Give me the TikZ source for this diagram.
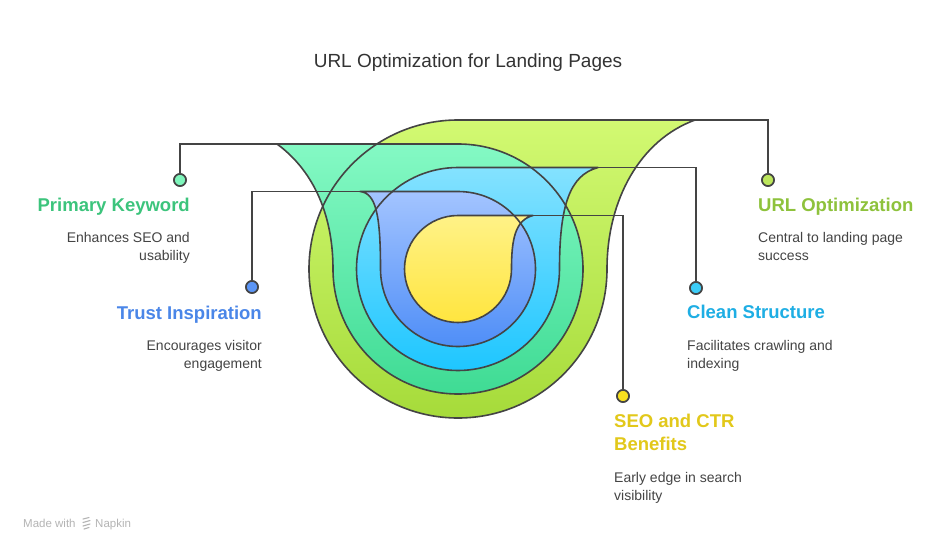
\documentclass[tikz,border=0pt]{standalone}
\usepackage{fontspec}
\setmainfont{Liberation Sans}
\definecolor{ink}{HTML}{444444}
\definecolor{titlec}{HTML}{333333}
\definecolor{wm}{HTML}{B4B4B4}
\definecolor{gTop}{HTML}{D2F972}\definecolor{gBot}{HTML}{A6DB3A}
\definecolor{mTop}{HTML}{84F9C4}\definecolor{mBot}{HTML}{3FDB94}
\definecolor{lTop}{HTML}{84E2FF}\definecolor{lBot}{HTML}{1EC6FF}
\definecolor{bTop}{HTML}{A3C4FF}\definecolor{bBot}{HTML}{4F8EF7}
\definecolor{yTop}{HTML}{FFF287}\definecolor{yBot}{HTML}{FFE53F}
\definecolor{hG}{HTML}{8EC23C}
\definecolor{hM}{HTML}{3CC47C}
\definecolor{hL}{HTML}{1EAEE4}
\definecolor{hB}{HTML}{4A86E8}
\definecolor{hY}{HTML}{E2C81A}
\definecolor{dG}{HTML}{BCE65C}
\definecolor{dM}{HTML}{7EF5BB}
\definecolor{dL}{HTML}{3CCDF8}
\definecolor{dB}{HTML}{5B95F5}
\definecolor{dY}{HTML}{F8E020}
\tikzset{
  outline/.style={draw=ink, line width=1.6pt, line join=round},
  conn/.style={draw=ink, line width=1.6pt},
  dotn/.style={circle, draw=ink, line width=1.6pt, minimum size=12pt, inner sep=0pt},
  head/.style={font=\fontsize{18.5}{22}\selectfont\bfseries, inner sep=0pt},
  body/.style={font=\fontsize{14}{18}\selectfont, text=ink, inner sep=0pt},
}
\def\shG{(458,120) arc[start angle=270, end angle=0, radius=149] .. controls (607,200) and (640,140) .. (695,120) -- cycle}
\def\shM{(458,144) arc[start angle=-90, end angle=180, radius=125] .. controls (333,210) and (310,168) .. (277,144) -- cycle}
\def\shL{(458,167.5) arc[start angle=270, end angle=0, radius=101.5] .. controls (559.5,205) and (570,175) .. (598,167.5) -- cycle}
\def\shB{(458,191.5) arc[start angle=-90, end angle=180, radius=77.5] .. controls (380.5,215) and (376,193) .. (360,191.5) -- cycle}
\def\shY{(458,215.5) arc[start angle=270, end angle=0, radius=53.5] .. controls (511.5,240) and (515,220) .. (533,215.5) -- cycle}
\begin{document}
\begin{tikzpicture}[x=1pt,y=-1pt]
\useasboundingbox[fill=white] (0,0) rectangle (948,552);
% fills
\path[top color=gTop, bottom color=gBot] \shG;
\path[top color=mTop, bottom color=mBot] \shM;
\path[top color=lTop, bottom color=lBot] \shL;
\path[top color=bTop, bottom color=bBot] \shB;
\path[top color=yTop, bottom color=yBot] \shY;
% outlines
\path[outline] \shG;
\path[outline] \shM;
\path[outline] \shL;
\path[outline] \shB;
\path[outline] \shY;
% connector start points
\coordinate (gT) at (695,120);
\coordinate (mT) at (277,144);
\coordinate (lT) at (598,167.5);
\coordinate (bT) at (360,191.5);
\coordinate (yT) at (533,215.5);
% dots
\node[dotn, fill=dG] (gD) at (768,180) {};
\node[dotn, fill=dM] (mD) at (180,180) {};
\node[dotn, fill=dL] (lD) at (696,288) {};
\node[dotn, fill=dB] (bD) at (252,287) {};
\node[dotn, fill=dY] (yD) at (623,396) {};
% connectors
\draw[conn] (gT) -| (gD);
\draw[conn] (mT) -| (mD);
\draw[conn] (lT) -| (lD);
\draw[conn] (bT) -| (bD);
\draw[conn] (yT) -| (yD);
% redraw dots on top
\node[dotn, fill=dG] at (gD) {};
\node[dotn, fill=dM] at (mD) {};
\node[dotn, fill=dL] at (lD) {};
\node[dotn, fill=dB] at (bD) {};
\node[dotn, fill=dY] at (yD) {};
% title
\node[font=\fontsize{19}{23}\selectfont, text=titlec, anchor=base, inner sep=0pt] (title) at (468,67) {URL Optimization for Landing Pages};
% Primary Keyword
\node[head, text=hM, anchor=base east] (mH) at (190,211) {Primary Keyword};
\node[body, anchor=base east] (m1) at (190,242) {Enhances SEO and};
\node[body, anchor=base east] (m2) at (190,260) {usability};
% Trust Inspiration
\node[head, text=hB, anchor=base east] (bH) at (262,319) {Trust Inspiration};
\node[body, anchor=base east] (b1) at (262,350) {Encourages visitor};
\node[body, anchor=base east] (b2) at (262,368) {engagement};
% URL Optimization
\node[head, text=hG, anchor=base west] (gH) at (758,211) {URL Optimization};
\node[body, anchor=base west] (g1) at (758,242) {Central to landing page};
\node[body, anchor=base west] (g2) at (758,260) {success};
% Clean Structure
\node[head, text=hL, anchor=base west] (lH) at (687,318) {Clean Structure};
\node[body, anchor=base west] (l1) at (687,350) {Facilitates crawling and};
\node[body, anchor=base west] (l2) at (687,368) {indexing};
% SEO and CTR
\node[head, text=hY, anchor=base west] (yH) at (614,427) {SEO and CTR};
\node[head, text=hY, anchor=base west] (yH2) at (614,450) {Benefits};
\node[body, anchor=base west] (y1) at (614,482) {Early edge in search};
\node[body, anchor=base west] (y2) at (614,500) {visibility};
% watermark
\node[font=\fontsize{11.5}{13}\selectfont, text=wm, anchor=base west, inner sep=0pt] (wm1) at (23,527) {Made with};
\node[font=\fontsize{11.5}{13}\selectfont, text=wm, anchor=base west, inner sep=0pt] (wm2) at (95,527) {Napkin};
\begin{scope}[draw=wm, line width=1.1pt, line cap=round]
\draw (83,519) -- (89,517.5);
\draw (83,522.5) -- (90,520.5);
\draw (83,526) -- (90,524);
\draw (84,529) -- (89,527.5);
\end{scope}
\end{tikzpicture}
\end{document}
